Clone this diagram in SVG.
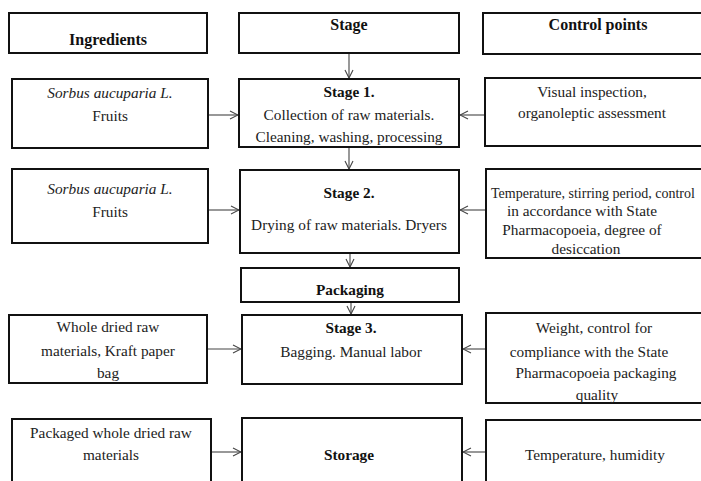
<svg xmlns="http://www.w3.org/2000/svg" width="701" height="481" viewBox="0 0 701 481">
<style>
.box{fill:#fff;stroke:#111;stroke-width:2}
text{font-family:"Liberation Serif","Times New Roman",serif;font-size:15.3px;fill:#222;text-anchor:middle}
.b{font-weight:bold;fill:#111}
.h{font-size:16px}
.i{font-style:italic}
.c{stroke:#444;stroke-width:1.1;fill:none}
</style>
<defs>
<marker id="ah" markerWidth="10" markerHeight="10" refX="9" refY="5" orient="auto" markerUnits="userSpaceOnUse">
<path d="M1,1 L9,5 L1,9" fill="none" stroke="#444" stroke-width="1.1"/>
</marker>
</defs>
<rect width="701" height="481" fill="#fff"/>
<g id="connectors">
<line class="c" x1="349" y1="54" x2="349" y2="78" marker-end="url(#ah)"/>
<line class="c" x1="349" y1="148" x2="349" y2="169" marker-end="url(#ah)"/>
<line class="c" x1="350" y1="254" x2="350" y2="267" marker-end="url(#ah)"/>
<line class="c" x1="351" y1="303" x2="351" y2="314" marker-end="url(#ah)"/>
<line class="c" x1="209" y1="115" x2="238" y2="115" marker-end="url(#ah)"/>
<line class="c" x1="485" y1="115" x2="460" y2="115" marker-end="url(#ah)"/>
<line class="c" x1="209" y1="210" x2="239" y2="210" marker-end="url(#ah)"/>
<line class="c" x1="486" y1="210" x2="460" y2="210" marker-end="url(#ah)"/>
<line class="c" x1="208" y1="349" x2="241" y2="349" marker-end="url(#ah)"/>
<line class="c" x1="486" y1="349" x2="463" y2="349" marker-end="url(#ah)"/>
<line class="c" x1="212" y1="452" x2="241" y2="452" marker-end="url(#ah)"/>
<line class="c" x1="486" y1="452" x2="463" y2="452" marker-end="url(#ah)"/>
</g>
<g id="h-ingredients"><rect class="box" x="9" y="13" width="198" height="40"/><text class="b h" x="108" y="45">Ingredients</text></g>
<g id="h-stage"><rect class="box" x="239" y="13" width="220" height="40"/><text class="b h" x="349" y="30">Stage</text></g>
<g id="h-control"><rect class="box" x="483" y="13" width="240" height="41"/><text class="b h" x="598" y="30">Control points</text></g>

<g id="ing1"><rect class="box" x="12" y="79" width="196" height="69"/><text class="i" x="110" y="98">Sorbus aucuparia L.</text><text x="110" y="121">Fruits</text></g>
<g id="stage1"><rect class="box" x="239" y="79" width="220" height="68"/><text class="b" x="349" y="97">Stage 1.</text><text x="349" y="120">Collection of raw materials.</text><text x="349" y="142">Cleaning, washing, processing</text></g>
<g id="ctl1"><rect class="box" x="485" y="78" width="240" height="68"/><text x="592" y="97">Visual inspection,</text><text x="592" y="118">organoleptic assessment</text></g>

<g id="ing2"><rect class="box" x="12" y="169" width="196" height="74"/><text class="i" x="110" y="194">Sorbus aucuparia L.</text><text x="110" y="217">Fruits</text></g>
<g id="stage2"><rect class="box" x="240" y="170" width="219" height="83"/><text class="b" x="349" y="198">Stage 2.</text><text x="349" y="230">Drying of raw materials. Dryers</text></g>
<g id="ctl2"><rect class="box" x="486" y="169" width="240" height="89"/><text x="491" y="198" style="text-anchor:start;font-size:14px">Temperature, stirring period, control</text><text x="582" y="216">in accordance with State</text><text x="582" y="235">Pharmacopoeia, degree of</text><text x="586" y="254">desiccation</text></g>

<g id="packaging"><rect class="box" x="241" y="268" width="218" height="34"/><text class="b" x="350" y="295">Packaging</text></g>

<g id="ing3"><rect class="box" x="9" y="315" width="198" height="68"/><text x="108" y="332">Whole dried raw</text><text x="108" y="356">materials, Kraft paper</text><text x="108" y="378">bag</text></g>
<g id="stage3"><rect class="box" x="242" y="315" width="220" height="69"/><text class="b" x="351" y="333">Stage 3.</text><text x="351" y="357">Bagging. Manual labor</text></g>
<g id="ctl3"><rect class="box" x="486" y="313" width="240" height="90"/><text x="594" y="333">Weight, control for</text><text x="589" y="357">compliance with the State</text><text x="596" y="378">Pharmacopoeia packaging</text><text x="597" y="400">quality</text></g>

<g id="ing4"><rect class="box" x="12" y="419" width="199" height="80"/><text x="111" y="438">Packaged whole dried raw</text><text x="111" y="460">materials</text></g>
<g id="storage"><rect class="box" x="242" y="418" width="220" height="80"/><text class="b" x="349" y="460">Storage</text></g>
<g id="ctl4"><rect class="box" x="486" y="420" width="240" height="80"/><text x="595" y="460">Temperature, humidity</text></g>
</svg>
